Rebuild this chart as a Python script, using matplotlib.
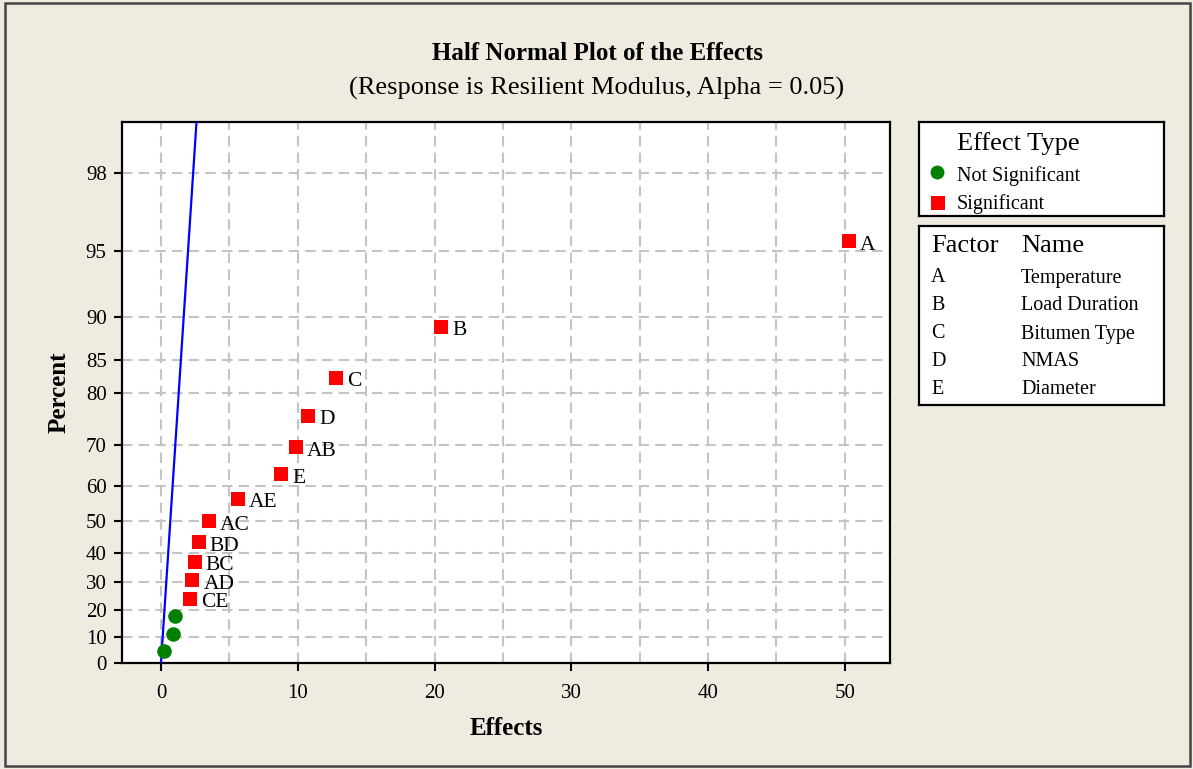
import matplotlib
matplotlib.use("Agg")
import matplotlib.pyplot as plt
from matplotlib.patches import Rectangle
from statistics import NormalDist

plt.rcParams['font.family'] = ['Liberation Serif', 'DejaVu Serif']

# effects, with the plotted percent for each
labels = ["", "", "", "CE", "AD", "BC", "BD", "AC", "AE", "E", "AB", "D", "C", "B", "A"]
effects = [0.24, 0.85, 1.02, 2.14, 2.29, 2.46, 2.75, 3.51, 5.61, 8.78, 9.88, 10.75, 12.8, 20.5, 50.3]
percents = [4.5, 11.0, 17.5, 24.0, 30.5, 37.0, 43.5, 50.0, 56.5, 63.0, 69.5, 76.0, 82.5, 89.0, 95.5]
significant = [False, False, False] + [True] * 12

ytick_pct = [0, 10, 20, 30, 40, 50, 60, 70, 80, 85, 90, 95, 98]
xticks = [0, 10, 20, 30, 40, 50]
fit_slope = 1.01  # blue reference line: effect = slope * half-normal score

factors = ["A", "B", "C", "D", "E"]
names = ["Temperature", "Load Duration", "Bitumen Type", "NMAS", "Diameter"]

W, H = 1193, 769
BG = "#EFEBE1"


def hn(p):
    # half normal score for a percent
    return NormalDist().inv_cdf(0.5 + p / 200.0)


fig = plt.figure(figsize=(W / 100, H / 100), dpi=100, facecolor=BG)
fig.add_artist(Rectangle((5 / W, 3 / H), 1185 / W, 763 / H, transform=fig.transFigure,
                         fill=False, edgecolor="#444444", linewidth=1.8))

ax = fig.add_axes([122 / W, (H - 663) / H, 768 / W, 541 / H])
ax.set_facecolor("white")
zmax = 2.571
ax.set_ylim(0, zmax)
ax.set_xlim(-2.85, 53.3)

ax.set_xticks(xticks)
ax.set_xticks(range(5, 55, 10), minor=True)
ax.set_yticks([hn(p) for p in ytick_pct])
ax.set_yticklabels([str(p) for p in ytick_pct])
ax.tick_params(axis="both", which="major", direction="out", length=6, width=1.5,
               labelsize=15, pad=5)
ax.tick_params(axis="x", which="minor", length=0)
ax.tick_params(axis="x", pad=9)
ax.grid(True, which="both", color="#C4C4C4", linestyle=(0, (5, 3)), linewidth=1.5)
ax.set_axisbelow(True)
for s in ax.spines.values():
    s.set_linewidth(1.6)

ax.plot([0, fit_slope * zmax], [0, zmax], color="#0000FF", linewidth=1.6, zorder=3)

for x, p, lab, sig in zip(effects, percents, labels, significant):
    z = hn(p)
    if sig:
        ax.plot(x, z, marker="s", markersize=10.5, color="#FF0000", markeredgewidth=0, zorder=4)
        ax.annotate(lab, (x, z), xytext=(8, -3), textcoords="offset points",
                    ha="left", va="center", fontsize=15.5)
    else:
        ax.plot(x, z, marker="o", markersize=10.5, color="#008000", markeredgewidth=0, zorder=4)

ax.set_xlabel("Effects", fontsize=18, fontweight="bold", labelpad=10)
ax.set_ylabel("Percent", fontsize=18, fontweight="bold", labelpad=11)

fig.text(597 / W, 1 - 53 / H, "Half Normal Plot of the Effects", ha="center", va="center",
         fontsize=18, fontweight="bold")
fig.text(597 / W, 1 - 88 / H, "(Response is Resilient Modulus, Alpha = 0.05)", ha="center",
         va="center", fontsize=19)


def box(x0, y0, x1, y1):
    b = fig.add_axes([x0 / W, (H - y1) / H, (x1 - x0) / W, (y1 - y0) / H])
    b.set_xlim(x0, x1)
    b.set_ylim(y1, y0)
    b.set_xticks([])
    b.set_yticks([])
    b.set_facecolor("white")
    for s in b.spines.values():
        s.set_linewidth(1.6)
    return b


b1 = box(919, 122, 1164, 216)
b1.text(957, 144, "Effect Type", fontsize=19, va="center", ha="left")
b1.plot(937, 172, marker="o", markersize=10, color="#008000", markeredgewidth=0)
b1.text(957, 176, "Not Significant", fontsize=14.5, va="center", ha="left")
b1.plot(938, 203, marker="s", markersize=10, color="#FF0000", markeredgewidth=0)
b1.text(957, 204, "Significant", fontsize=14.5, va="center", ha="left")

b2 = box(919, 226, 1164, 405)
b2.text(931, 246, "Factor", fontsize=19, va="center", ha="left")
b2.text(1021, 246, "Name", fontsize=19, va="center", ha="left")
for i, (f, n) in enumerate(zip(factors, names)):
    y = 278 + 28 * i
    b2.text(931, y, f, fontsize=14.5, va="center", ha="left")
    b2.text(1021, y, n, fontsize=14.5, va="center", ha="left")

fig.savefig("out.png", dpi=100, facecolor=BG)
